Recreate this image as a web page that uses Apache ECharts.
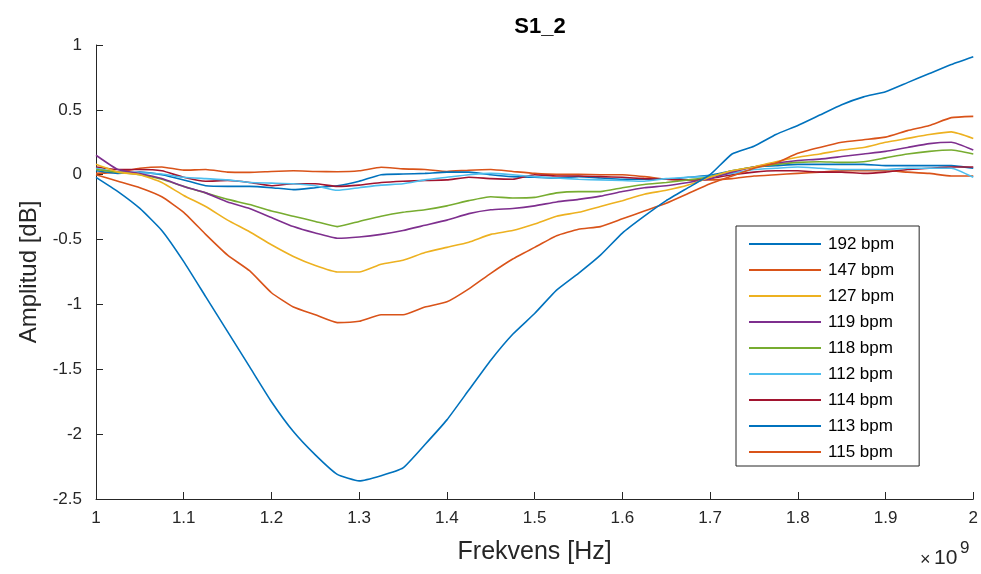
<!DOCTYPE html>
<html>
<head>
<meta charset="utf-8">
<script src="https://cdn.jsdelivr.net/npm/echarts@6/dist/echarts.min.js"></script>
<style>
html,body{margin:0;padding:0;background:#fff;}
#chart{width:981px;height:574px;}
</style>
</head>
<body>
<div id="chart"></div>
<script>
// Frequency in units of 1e9 Hz
const freq = [1.000,1.025,1.050,1.075,1.100,1.125,1.150,1.175,1.200,1.225,1.250,1.275,1.300,1.325,1.350,1.375,1.400,1.425,1.450,1.475,1.500,1.525,1.550,1.575,1.600,1.625,1.650,1.675,1.700,1.725,1.750,1.775,1.800,1.825,1.850,1.875,1.900,1.925,1.950,1.975,2.000];

const s192 = [-0.02,-0.13,-0.26,-0.43,-0.67,-0.94,-1.21,-1.48,-1.75,-1.98,-2.16,-2.31,-2.36,-2.32,-2.26,-2.08,-1.89,-1.66,-1.43,-1.23,-1.07,-0.89,-0.76,-0.62,-0.45,-0.32,-0.20,-0.10,0.00,0.16,0.22,0.31,0.38,0.46,0.54,0.60,0.64,0.71,0.78,0.85,0.91];
const s147 = [0.00,-0.05,-0.10,-0.17,-0.29,-0.46,-0.62,-0.74,-0.91,-1.02,-1.08,-1.14,-1.13,-1.08,-1.08,-1.02,-0.98,-0.88,-0.76,-0.65,-0.56,-0.47,-0.42,-0.40,-0.34,-0.28,-0.22,-0.145,-0.07,-0.01,0.05,0.09,0.165,0.21,0.25,0.27,0.29,0.34,0.38,0.44,0.45];
const s127 = [0.08,0.02,0.00,-0.06,-0.16,-0.245,-0.35,-0.44,-0.54,-0.63,-0.70,-0.75,-0.75,-0.69,-0.66,-0.60,-0.56,-0.52,-0.46,-0.43,-0.38,-0.32,-0.29,-0.245,-0.20,-0.15,-0.12,-0.08,-0.02,0.03,0.06,0.10,0.135,0.16,0.19,0.21,0.25,0.28,0.31,0.33,0.28];
const s119 = [0.15,0.04,0.01,-0.03,-0.09,-0.14,-0.21,-0.26,-0.33,-0.40,-0.45,-0.49,-0.48,-0.46,-0.43,-0.39,-0.35,-0.30,-0.27,-0.26,-0.24,-0.21,-0.19,-0.165,-0.13,-0.10,-0.085,-0.06,-0.03,0.02,0.06,0.09,0.11,0.12,0.14,0.16,0.18,0.21,0.24,0.25,0.19];
const s118 = [0.04,0.02,0.00,-0.035,-0.09,-0.14,-0.19,-0.23,-0.28,-0.32,-0.36,-0.40,-0.36,-0.32,-0.29,-0.27,-0.24,-0.20,-0.17,-0.18,-0.175,-0.14,-0.13,-0.13,-0.10,-0.075,-0.06,-0.04,-0.015,0.03,0.06,0.08,0.095,0.10,0.095,0.10,0.13,0.16,0.18,0.19,0.16];
const s112 = [0.05,0.02,0.015,0.005,-0.02,-0.03,-0.04,-0.06,-0.065,-0.07,-0.085,-0.12,-0.10,-0.08,-0.07,-0.04,-0.02,0.00,0.01,0.00,-0.015,-0.025,-0.035,-0.04,-0.045,-0.05,-0.03,-0.02,-0.01,0.01,0.04,0.05,0.06,0.05,0.04,0.04,0.04,0.05,0.05,0.05,-0.02];
const s114 = [0.06,0.04,0.04,0.03,-0.02,-0.05,-0.045,-0.06,-0.085,-0.07,-0.07,-0.09,-0.08,-0.06,-0.05,-0.045,-0.04,-0.02,-0.03,-0.035,0.00,-0.01,-0.01,-0.015,-0.02,-0.03,-0.035,-0.04,-0.03,0.00,0.02,0.03,0.03,0.02,0.02,0.01,0.02,0.04,0.05,0.06,0.06];
const s113 = [0.03,0.01,0.02,0.00,-0.04,-0.085,-0.09,-0.09,-0.10,-0.115,-0.10,-0.085,-0.05,0.00,0.005,0.01,0.02,0.02,0.00,-0.015,-0.02,-0.025,-0.015,-0.025,-0.035,-0.035,-0.035,-0.02,-0.005,0.03,0.06,0.07,0.08,0.08,0.08,0.08,0.07,0.07,0.07,0.07,0.05];
const s115 = [0.01,0.02,0.05,0.06,0.035,0.04,0.02,0.018,0.025,0.03,0.025,0.023,0.03,0.057,0.045,0.04,0.025,0.035,0.04,0.025,0.01,0.003,0.003,0.00,0.00,-0.015,-0.035,-0.04,-0.04,-0.03,-0.01,0.00,0.01,0.02,0.03,0.03,0.03,0.02,0.01,-0.01,-0.01];

const seriesNames = ['192 bpm','147 bpm','127 bpm','119 bpm','118 bpm','112 bpm','114 bpm','113 bpm','115 bpm'];
const seriesValues = [s192,s147,s127,s119,s118,s112,s114,s113,s115];
const colors = ['#0072BD','#D95319','#EDB120','#7E2F8E','#77AC30','#4DBEEE','#A2142F','#0072BD','#D95319'];

const FONT = "'Liberation Sans', Arial, Helvetica, sans-serif";
const AX = '#262626';

const chart = echarts.init(document.getElementById('chart'), null, {renderer:'canvas'});
const series = seriesNames.map((n, i) => ({
  name: n,
  type: 'line',
  data: freq.map((f, j) => [f, seriesValues[i][j]]),
  symbol: 'none',
  smooth: 0.15,
  lineStyle: {width: 1.6, color: colors[i]},
  itemStyle: {color: colors[i]},
  z: 10 - i,
  animation: false
}));

chart.setOption({
  animation: false,
  backgroundColor: '#fff',
  title: {
    text: 'S1_2', left: 535, top: 11, textAlign: 'center',
    textStyle: {fontFamily: FONT, fontWeight: 'bold', fontSize: 22, color: '#000'}
  },
  grid: {left: 96, right: 6, top: 45, bottom: 75, containLabel: false},
  xAxis: {
    type: 'value', min: 1, max: 2, interval: 0.1,
    name: 'Frekvens [Hz]', nameLocation: 'middle', nameGap: 41,
    nameTextStyle: {fontFamily: FONT, fontSize: 25, color: AX},
    axisLine: {show: true, onZero: false, lineStyle: {color: AX, width: 1}},
    axisTick: {show: true, inside: true, length: 7, lineStyle: {color: AX}},
    axisLabel: {fontFamily: FONT, fontSize: 17, color: AX, margin: 11,
      formatter: v => String(Math.round(v*10)/10)},
    splitLine: {show: false}
  },
  yAxis: {
    type: 'value', min: -2.5, max: 1, interval: 0.5,
    name: 'Amplitud [dB]', nameLocation: 'middle', nameGap: 53,
    nameTextStyle: {fontFamily: FONT, fontSize: 24, color: AX},
    axisLine: {show: true, onZero: false, lineStyle: {color: AX, width: 1}},
    axisTick: {show: true, inside: true, length: 7, lineStyle: {color: AX}},
    axisLabel: {fontFamily: FONT, fontSize: 17, color: AX, margin: 14,
      formatter: v => String(Math.round(v*10)/10)},
    splitLine: {show: false}
  },
  legend: {
    orient: 'vertical', left: 736, top: 226,
    backgroundColor: '#fff', borderColor: AX, borderWidth: 1,
    padding: [8, 25, 4, 13],
    icon: 'rect',
    itemWidth: 72, itemHeight: 2, itemGap: 6,
    textStyle: {fontFamily: FONT, fontSize: 17, color: '#000', lineHeight: 20, padding: [0,0,0,2]},
    data: seriesNames
  },
  graphic: [
    {type: 'text', left: 920, top: 551, style: {text: '×', fontFamily: FONT, fontSize: 18, fill: AX}},
    {type: 'text', left: 934, top: 548, style: {text: '10', fontFamily: FONT, fontSize: 21, fill: AX}},
    {type: 'text', left: 960, top: 540, style: {text: '9', fontFamily: FONT, fontSize: 17, fill: AX}}
  ],
  series: series
});
</script>
</body>
</html>
